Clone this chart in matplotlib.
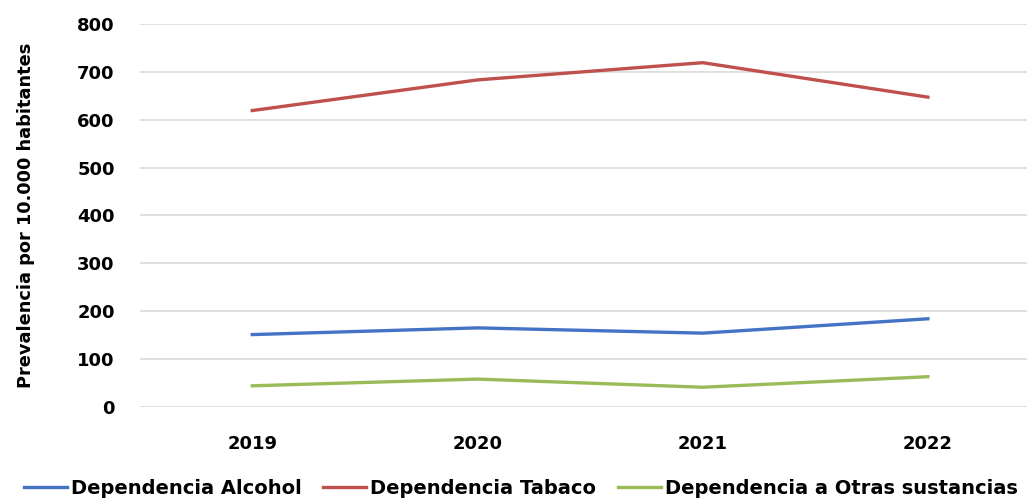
import matplotlib.pyplot as plt

years = ['2019', '2020', '2021', '2022']
alcohol = [151, 165, 154, 184]
tabaco = [619, 683, 719, 647]
otras = [44, 58, 41, 63]

plt.rcParams['font.family'] = ['DejaVu Sans']
plt.rcParams['font.weight'] = 'bold'

fig = plt.figure(figsize=(10.27, 4.98), dpi=100)
ax = fig.add_axes([0.136, 0.183, 0.864, 0.769])

x = range(len(years))
ax.plot(x, alcohol, color='#4472C4', lw=2.4, label='Dependencia Alcohol')
ax.plot(x, tabaco, color='#C0504D', lw=2.4, label='Dependencia Tabaco')
ax.plot(x, otras, color='#9BBB59', lw=2.4, label='Dependencia a Otras sustancias')

ax.set_ylim(0, 800)
ax.set_xlim(-0.5, 3.44)
ax.set_yticks(range(0, 801, 100))
ax.set_xticks(list(x))
ax.set_xticklabels(years)
ax.grid(axis='y', color='#d9d9d9', lw=1.2)
ax.set_axisbelow(True)
for s in ax.spines.values():
    s.set_visible(False)
ax.tick_params(length=0, labelsize=13)
ax.tick_params(axis='y', pad=18)
ax.tick_params(axis='x', pad=20)
ax.set_ylabel('Prevalencia por 10.000 habitantes', fontsize=12.8, fontweight='bold')
ax.yaxis.set_label_coords(-0.118, 0.5)

fig.legend(loc='center', bbox_to_anchor=(0.507, 0.02), ncol=3, frameon=False,
           fontsize=14, handlelength=2.2, handletextpad=0.2, columnspacing=1.13)

fig.savefig('out.png', dpi=100)
